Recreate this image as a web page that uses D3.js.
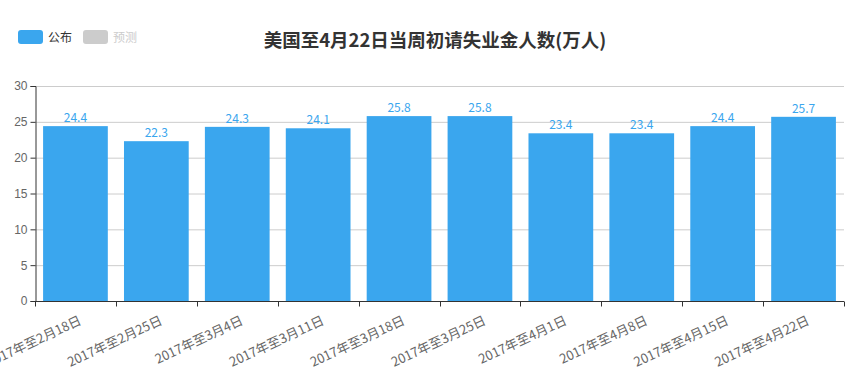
<!DOCTYPE html>
<html>
<head>
<meta charset="utf-8">
<script src="https://cdn.jsdelivr.net/npm/d3@7"></script>
<style>
body { margin: 0; background: #fff; }
svg { display: block; font-family: "Noto Sans CJK SC", "Microsoft YaHei", sans-serif; }
</style>
</head>
<body>
<svg id="chart" width="855" height="379"></svg>
<script>
const weeks = ["2017年至2月18日", "2017年至2月25日", "2017年至3月4日", "2017年至3月11日", "2017年至3月18日",
	"2017年至3月25日", "2017年至4月1日", "2017年至4月8日", "2017年至4月15日", "2017年至4月22日"]
const published = [24.4, 22.3, 24.3, 24.1, 25.8, 25.8, 23.4, 23.4, 24.4, 25.7]
const yTicks = [0, 5, 10, 15, 20, 25, 30]
const legendItems = [{ name: "公布", color: "#3aa6ee" }, { name: "预测", color: "#cccccc" }]
const titleText = "美国至4月22日当周初请失业金人数(万人)"

const svg = d3.select("#chart")
const margin = { left: 35, right: 11, top: 86, bottom: 78 }
const W = 855, H = 379

let x = d3.scaleBand().domain(weeks).range([margin.left, W - margin.right]).paddingInner(0.2).paddingOuter(0.1)
let y = d3.scaleLinear().domain([0, 30]).range([H - margin.bottom, margin.top])

// grid
svg.append("g").selectAll("line").data(yTicks.slice(1)).enter().append("line")
	.attr("x1", margin.left).attr("x2", W - margin.right)
	.attr("y1", d => y(d) + 0.5).attr("y2", d => y(d) + 0.5)
	.style("stroke", "#ccc").style("stroke-width", 1)

// bars
svg.append("g").selectAll("rect").data(published).enter().append("rect")
	.attr("x", (d, i) => x(weeks[i]))
	.attr("width", x.bandwidth())
	.attr("y", d => y(d))
	.attr("height", d => y(0) - y(d))
	.style("fill", "#3aa6ee")

svg.append("g").selectAll("text").data(published).enter().append("text")
	.attr("x", (d, i) => x(weeks[i]) + x.bandwidth() / 2)
	.attr("y", d => y(d) - 4)
	.attr("text-anchor", "middle")
	.style("font-size", "12px").style("fill", "#3aa6ee")
	.text(d => d.toFixed(1))

// y axis
let yAxis = svg.append("g").attr("transform", `translate(${margin.left + 0.5},0)`)
	.call(d3.axisLeft(y).tickValues(yTicks).tickSize(5).tickPadding(3))
yAxis.select(".domain").style("stroke", "#333")
yAxis.selectAll(".tick line").style("stroke", "#333")
yAxis.selectAll(".tick text").style("fill", "#666").style("font-size", "12px").style("font-family", null)

// x axis
let step = x.step()
let bounds = d3.range(weeks.length + 1).map(i => margin.left + i * step)
let xg = svg.append("g").attr("transform", `translate(0,${y(0) + 0.5})`)
xg.append("line").attr("x1", margin.left).attr("x2", W - margin.right)
	.style("stroke", "#333")
xg.selectAll(".tk").data(bounds).enter().append("line").classed("tk", true)
	.attr("x1", d => Math.round(d) + 0.5).attr("x2", d => Math.round(d) + 0.5)
	.attr("y1", 0).attr("y2", 5).style("stroke", "#333")
xg.selectAll(".lbl").data(weeks).enter().append("text").classed("lbl", true)
	.attr("transform", d => `translate(${x(d) + x.bandwidth() / 2 + 3},${14}) rotate(-25)`)
	.attr("text-anchor", "end").attr("dy", "0.7em")
	.style("font-size", "13px").style("fill", "#666")
	.text(d => d)

// title
svg.append("text").attr("x", 435).attr("y", 47).attr("text-anchor", "middle")
	.style("font-size", "18.5px").style("font-weight", "bold").style("fill", "#333")
	.text(titleText)

// legend
let lg = svg.append("g").selectAll("g").data(legendItems).enter().append("g")
	.attr("transform", (d, i) => `translate(${18 + i * 65},30)`)
lg.append("rect").attr("width", 25).attr("height", 14).attr("rx", 3)
	.style("fill", d => d.color)
lg.append("text").attr("x", 30).attr("y", 11.5)
	.style("font-size", "12px").style("fill", (d, i) => i == 0 ? "#333" : "#ccc")
	.text(d => d.name)
</script>
</body>
</html>
